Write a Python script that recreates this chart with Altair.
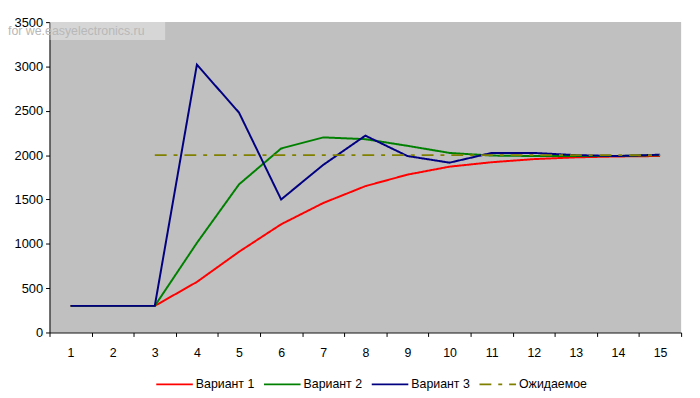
import altair as alt
import pandas as pd

steps = list(range(1, 16))
series_names = ["Вариант 1", "Вариант 2", "Вариант 3", "Ожидаемое"]
v1 = [300, 300, 300, 570, 910, 1220, 1460, 1650, 1780, 1870, 1920, 1955, 1975, 1985, 1990]
v2 = [300, 300, 300, 1010, 1670, 2075, 2200, 2180, 2105, 2025, 1995, 1990, 1990, 1990, 2000]
v3 = [300, 300, 300, 3020, 2480, 1500, 1890, 2220, 1990, 1915, 2025, 2025, 2000, 1990, 2005]
expected = [None, None, 2000, 2000, 2000, 2000, 2000, 2000, 2000, 2000, 2000, 2000, 2000, 2000, 2000]
colors = ["#FF0000", "#008000", "#000080", "#808000"]
dashes = [[1, 0], [1, 0], [1, 0], [12, 7, 4, 7]]
y_ticks = [0, 500, 1000, 1500, 2000, 2500, 3000, 3500]
watermark = "for we.easyelectronics.ru"

rows = []
for name, vals in zip(series_names, [v1, v2, v3, expected]):
    for s, v in zip(steps, vals):
        if v is not None:
            rows.append({"step": s, "value": v, "series": name})
df = pd.DataFrame(rows)

font = "Liberation Sans"

legend_kw = dict(title=None, orient="none", direction="horizontal",
                 legendX=107, legendY=347, symbolType="stroke",
                 symbolSize=1369, symbolStrokeWidth=2, labelFont=font,
                 labelFontSize=12.5, labelColor="black", labelOffset=2,
                 columnPadding=5)

lines = alt.Chart(df).mark_line(strokeWidth=2, clip=False).encode(
    x=alt.X("step:O", title=None, sort=steps,
            scale=alt.Scale(paddingInner=0, paddingOuter=0),
            axis=alt.Axis(labelAngle=0, tickBand="extent", tickSize=4, domainColor="black",
                          tickColor="black", labelColor="black", labelFont=font, labelFontSize=12.5,
                          labelPadding=10, grid=False)),
    y=alt.Y("value:Q", title=None,
            scale=alt.Scale(domain=[0, 3500], nice=False, zero=True),
            axis=alt.Axis(values=y_ticks, format="d", tickSize=4, domainColor="black",
                          tickColor="black", labelColor="black", labelFont=font,
                          labelFontSize=13, labelPadding=3, grid=False)),
    color=alt.Color("series:N", sort=series_names,
                    scale=alt.Scale(domain=series_names, range=colors),
                    legend=alt.Legend(**legend_kw)),
    strokeDash=alt.StrokeDash("series:N", sort=series_names,
                              scale=alt.Scale(domain=series_names, range=dashes),
                              legend=alt.Legend(**legend_kw)),
    order=alt.Order("series:N"),
)

wm_df = pd.DataFrame({"t": [watermark]})
wm_box = alt.Chart(wm_df).mark_rect(color="#FFFFFF", opacity=0.35, clip=False).encode(
    x=alt.value(0), x2=alt.value(117), y=alt.value(-1), y2=alt.value(18)
)
wm_text = alt.Chart(wm_df).mark_text(align="left", baseline="middle", font=font, fontSize=12.5,
                                     color="#B8B8B8", clip=False).encode(
    x=alt.value(-42), y=alt.value(9.5), text="t:N"
)

chart = alt.layer(lines, wm_box, wm_text).properties(
    width=639, height=314,
    autosize=alt.AutoSizeParams(type="none"),
    padding={"left": 42, "top": 12, "right": 11, "bottom": 64},
    background="white",
).configure_view(fill="#C0C0C0", stroke=None)

chart.save("out.html", embed_options={"renderer": "svg", "actions": False})
